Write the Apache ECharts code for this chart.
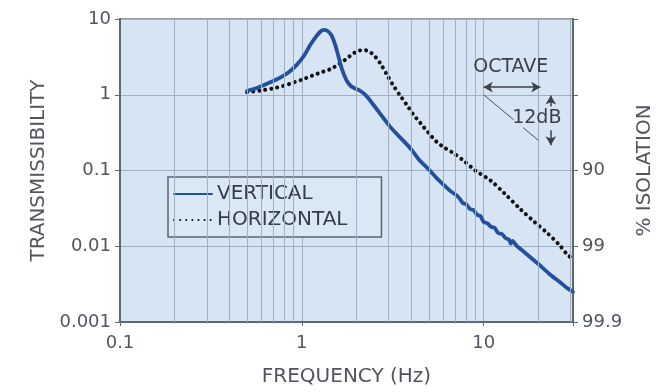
<!DOCTYPE html>
<html>
<head>
<meta charset="utf-8">
<script src="https://cdn.jsdelivr.net/npm/echarts@6/dist/echarts.min.js"></script>
<style>
html, body { margin: 0; background: #fff; }
#chart { width: 667px; height: 392px; }
</style>
</head>
<body>
<div id="chart"></div>
<script>
// --- data: [frequency Hz, transmissibility]
const verticalData = [
  [0.5, 1.13], [0.55, 1.2], [0.61, 1.32], [0.68, 1.48], [0.76, 1.68], [0.85, 2.0],
  [0.94, 2.5], [1.03, 3.3], [1.11, 4.5], [1.2, 5.9], [1.27, 6.9], [1.32, 7.2],
  [1.38, 7.0], [1.45, 6.2], [1.52, 4.7], [1.58, 3.4], [1.66, 2.2], [1.75, 1.6],
  [1.85, 1.32], [1.95, 1.22], [2.1, 1.12], [2.25, 0.98], [2.45, 0.76], [2.7, 0.56],
  [3.0, 0.4], [3.3, 0.31], [3.6, 0.25], [4.0, 0.19], [4.4, 0.14], [4.9, 0.108],
  [5.5, 0.08], [6.1, 0.063], [6.6, 0.053], [7.1, 0.047], [7.4, 0.042], [7.7, 0.037],
  [8.0, 0.036], [8.4, 0.031], [8.8, 0.030], [9.2, 0.026], [9.6, 0.025], [10, 0.021],
  [10.5, 0.020], [11.0, 0.018], [11.5, 0.0175], [12.0, 0.015], [12.6, 0.0145],
  [13.2, 0.0128], [13.8, 0.0122], [14.1, 0.0108], [14.4, 0.0118], [15.2, 0.0101],
  [17.0, 0.0081], [19.7, 0.006], [23.0, 0.0043], [26.5, 0.0033], [28.8, 0.0028], [31, 0.0025]
];
const horizontalData = [
  [0.5, 1.08], [0.6, 1.14], [0.7, 1.22], [0.8, 1.32], [0.9, 1.45], [1.0, 1.58],
  [1.15, 1.8], [1.3, 2.0], [1.45, 2.2], [1.6, 2.55], [1.75, 2.95], [1.9, 3.45],
  [2.05, 3.8], [2.2, 3.9], [2.35, 3.7], [2.5, 3.3], [2.7, 2.6], [2.95, 1.8],
  [3.2, 1.3], [3.5, 0.95], [3.8, 0.72], [4.1, 0.55], [4.5, 0.42], [5.0, 0.31],
  [5.5, 0.24], [6.0, 0.205], [6.8, 0.17], [7.7, 0.137], [9.0, 0.1], [10.9, 0.074],
  [13.0, 0.05], [15.9, 0.031], [19.0, 0.021], [22.4, 0.0149], [26.0, 0.0105],
  [28.8, 0.0078], [31, 0.0068]
];
const seriesNames = ['VERTICAL', 'HORIZONTAL'];
const freqLabels = { '-1': '0.1', '0': '1', '1': '10' };
const transLabels = { '-3': '0.001', '-2': '0.01', '-1': '0.1', '0': '1', '1': '10' };
const isolationLabels = { '-3': '99.9', '-2': '99', '-1': '90' };

// minor vertical grid lines at 2..9 of each decade
const minorX = [];
[0.1, 1, 10].forEach(d => {
  for (let k = 2; k <= 9; k++) if (d * k <= 31) minorX.push(+(d * k).toFixed(3));
});

const FONT = 'DejaVu Sans';
const TXT = '#50565e';
const GRID = '#9db0c4';

function expOf(v) {
  const e = Math.log10(v);
  return Math.abs(e - Math.round(e)) < 1e-6 ? String(Math.round(e)) : null;
}

const chart = echarts.init(document.getElementById('chart'));

const annLine = { color: '#3c4148', width: 1.5, type: 'solid' };
const slopeLine = { color: '#4b5058', width: 1, type: 'solid' };

chart.setOption({
  animation: false,
  textStyle: { fontFamily: FONT },
  grid: {
    left: 120, top: 19, right: 94, bottom: 70,
    show: true, backgroundColor: '#d6e4f3', borderColor: '#737d88', borderWidth: 1.5
  },
  legend: {
    data: seriesNames,
    orient: 'vertical',
    left: 168, top: 177,
    itemWidth: 38, itemHeight: 14, itemGap: 6,
    padding: [7, 34, 7, 5],
    backgroundColor: '#dae7f4',
    borderColor: '#5b6470', borderWidth: 1.5, borderRadius: 0,
    itemStyle: { opacity: 0 },
    textStyle: { fontFamily: FONT, fontSize: 20, color: '#343c47' }
  },
  xAxis: {
    type: 'log', logBase: 10, min: 0.1, max: 31,
    name: 'FREQUENCY (Hz)', nameLocation: 'middle', nameGap: 45,
    nameTextStyle: { fontFamily: FONT, fontSize: 20, color: TXT },
    axisLine: { show: true, lineStyle: { color: '#5f6872', width: 2 } },
    axisTick: { show: true, length: 4, lineStyle: { color: '#5f6872' } },
    axisLabel: {
      margin: 12, fontSize: 18, color: TXT, fontFamily: FONT,
      formatter: v => freqLabels[expOf(v)] || ''
    },
    splitLine: { show: true, lineStyle: { color: GRID, width: 1 } }
  },
  yAxis: [{
    type: 'log', logBase: 10, min: 0.001, max: 10,
    name: 'TRANSMISSIBILITY', nameLocation: 'middle', nameGap: 71,
    nameTextStyle: { fontFamily: FONT, fontSize: 20, color: TXT },
    axisLine: { show: true, lineStyle: { color: '#5f6872', width: 2 } },
    axisTick: { show: true, length: 5, lineStyle: { color: '#5f6872' } },
    axisLabel: {
      margin: 9, fontSize: 18, color: TXT, fontFamily: FONT,
      formatter: v => transLabels[expOf(v)] || ''
    },
    splitLine: { show: true, lineStyle: { color: GRID, width: 1.2 } }
  }, {
    type: 'log', logBase: 10, min: 0.001, max: 10, position: 'right',
    name: '% ISOLATION', nameLocation: 'middle', nameGap: 62, nameRotate: 90,
    nameTextStyle: { fontFamily: FONT, fontSize: 20, color: TXT },
    axisLine: { show: true, lineStyle: { color: '#5f6872', width: 2 } },
    axisTick: { show: true, length: 5, lineStyle: { color: '#5f6872' } },
    axisLabel: {
      margin: 9, fontSize: 18, color: TXT, fontFamily: FONT,
      formatter: v => isolationLabels[expOf(v)] || ''
    },
    splitLine: { show: false }
  }],
  series: [
    {
      name: 'grid', type: 'line', data: [], z: 1, silent: true,
      markLine: {
        silent: true, symbol: 'none', animation: false,
        label: { show: false },
        lineStyle: { color: GRID, width: 1, type: 'solid' },
        data: minorX.map(v => ({ xAxis: v }))
      }
    },
    {
      name: 'HORIZONTAL', type: 'line', data: horizontalData, z: 3,
      showSymbol: false, symbol: 'none', smooth: 0.3,
      lineStyle: { color: '#111', width: 4, type: [0.1, 6], cap: 'round' },
      itemStyle: { color: '#111' }
    },
    {
      name: 'VERTICAL', type: 'line', data: verticalData, z: 4,
      showSymbol: false, symbol: 'none', smooth: 0.3,
      lineStyle: { color: '#22509d', width: 3.8, cap: 'round', join: 'round' },
      itemStyle: { color: '#22509d' }
    },
    {
      name: 'notes', type: 'line', data: [], z: 5, silent: true,
      markLine: {
        silent: true, animation: false, symbolSize: [8, 9],
        label: { show: false },
        data: [
          [{ coord: [10, 1.26], symbol: 'arrow', lineStyle: annLine },
           { coord: [20.5, 1.26], symbol: 'arrow' }],
          [{ coord: [23.4, 0.7], symbol: 'none', lineStyle: annLine },
           { coord: [23.4, 0.98], symbol: 'arrow' }],
          [{ coord: [23.4, 0.34], symbol: 'none', lineStyle: annLine },
           { coord: [23.4, 0.215], symbol: 'arrow' }],
          [{ coord: [10, 1], symbol: 'none', lineStyle: slopeLine },
           { coord: [14.6, 0.469], symbol: 'none' }],
          [{ coord: [16.5, 0.367], symbol: 'none', lineStyle: slopeLine },
           { coord: [20, 0.25], symbol: 'none' }]
        ]
      },
      markPoint: {
        silent: true, animation: false, symbol: 'circle', symbolSize: 0,
        label: { show: true, position: 'inside', fontFamily: FONT, fontSize: 19, color: '#3a3f46' },
        data: [
          { coord: [14.1, 2.32], label: { formatter: 'OCTAVE' } },
          { coord: [19.6, 0.49], label: { formatter: '12dB' } }
        ]
      }
    }
  ]
});
</script>
</body>
</html>
